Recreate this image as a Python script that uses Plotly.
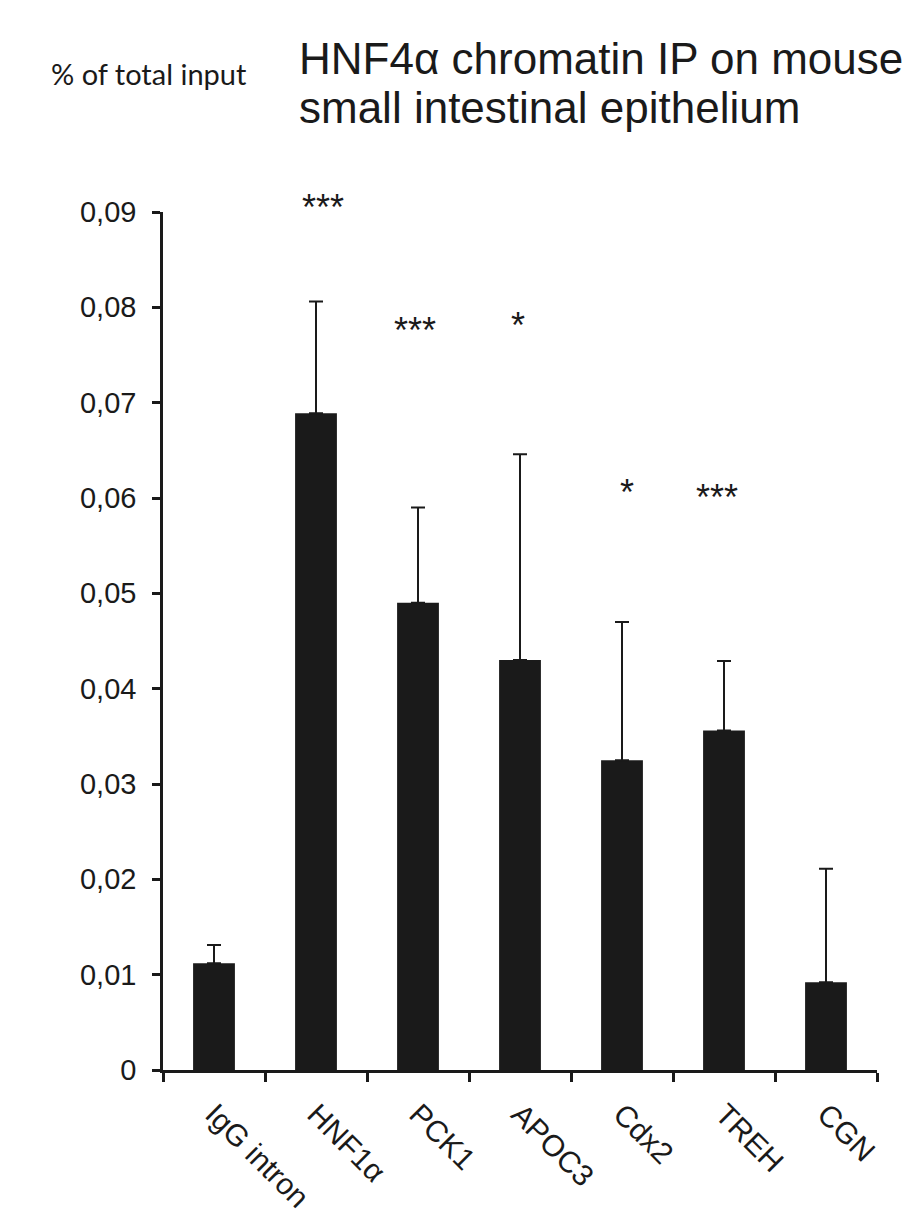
import plotly.graph_objects as go

# Values (% of total input)
genes = ["IgG intron", "HNF1α", "PCK1", "APOC3", "Cdx2", "TREH", "CGN"]
means = [0.0112, 0.0689, 0.0490, 0.0430, 0.0325, 0.0356, 0.0092]
errors = [0.0019, 0.0117, 0.0100, 0.0216, 0.0145, 0.0073, 0.0119]

# significance marks and the height (data units) where they sit
stars = ["", "***", "***", "*", "*", "***", ""]
star_y = [None, 0.0905, 0.0776, 0.0781, 0.0606, 0.0601, None]

ytick_vals = [0, 0.01, 0.02, 0.03, 0.04, 0.05, 0.06, 0.07, 0.08, 0.09]
ytick_text = ["0", "0,01", "0,02", "0,03", "0,04", "0,05", "0,06", "0,07", "0,08", "0,09"]

y_max = 0.09
ink = "#1a1a1a"
font_main = "Liberation Sans, Arial, sans-serif"

fig = go.Figure(go.Bar(
    x=genes,
    y=means,
    marker=dict(color=ink, line=dict(width=0)),
    error_y=dict(type="data", array=errors, arrayminus=[0] * len(errors),
                 symmetric=False, thickness=2, width=7, color=ink),
    width=0.41,
))

# stars: y in paper units so the top one above the axis end is not dropped
star_nudge = [0, 7, -3, -2, 5, -7, 0]
for g, s, sy, dx in zip(genes, stars, star_y, star_nudge):
    if s:
        fig.add_annotation(x=g, xref="x", y=sy / y_max, yref="paper",
                           text=s, showarrow=False, xshift=dx,
                           font=dict(family=font_main, size=36, color=ink),
                           xanchor="center", yanchor="middle")

# title lines and y-axis caption
fig.add_annotation(xref="paper", yref="paper", x=0.188, y=1.179,
                   text="HNF4α chromatin IP on mouse", showarrow=False,
                   xanchor="left", yanchor="middle",
                   font=dict(family=font_main, size=44, color=ink))
fig.add_annotation(xref="paper", yref="paper", x=0.188, y=1.122,
                   text="small intestinal epithelium", showarrow=False,
                   xanchor="left", yanchor="middle",
                   font=dict(family=font_main, size=44, color=ink))
fig.add_annotation(xref="paper", yref="paper", x=-0.16, y=1.161,
                   text="% of total input", showarrow=False,
                   xanchor="left", yanchor="middle",
                   font=dict(family="Lato, sans-serif", size=29, color=ink))

fig.update_layout(
    width=915,
    height=1230,
    margin=dict(l=155, r=46, t=204, b=168),
    plot_bgcolor="white",
    paper_bgcolor="white",
    showlegend=False,
    font=dict(family=font_main, color=ink),
)
fig.update_xaxes(
    showline=True, linecolor=ink, linewidth=2.5,
    ticks="outside", ticklen=9, tickwidth=2.5, tickcolor=ink,
    tickson="boundaries", tickangle=45, ticklabelstandoff=12,
    tickfont=dict(family=font_main, size=30, color=ink),
    showgrid=False, zeroline=False,
)
fig.update_yaxes(
    range=[0, y_max], showline=True, linecolor=ink, linewidth=2.5,
    ticks="outside", ticklen=8, tickwidth=2.5, tickcolor=ink,
    tickvals=ytick_vals, ticktext=ytick_text, ticklabelstandoff=10,
    tickfont=dict(family=font_main, size=29, color=ink),
    showgrid=False, zeroline=False,
)

fig.write_html("out.html")
